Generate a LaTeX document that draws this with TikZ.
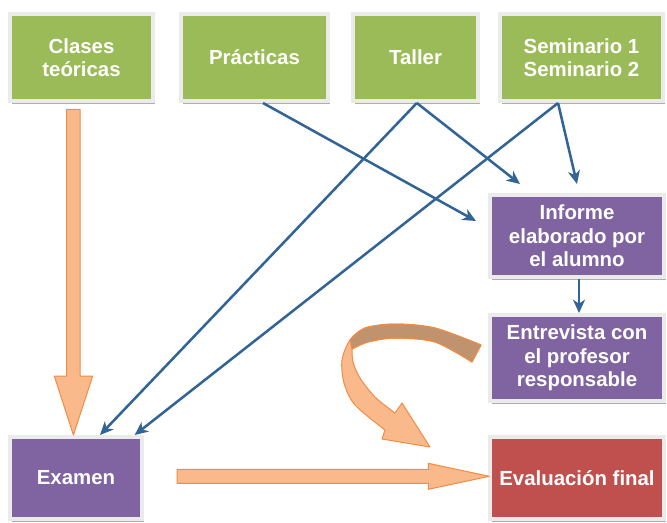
\documentclass[tikz,border=0pt]{standalone}
\usepackage{fontspec}
\setmainfont{Liberation Sans}
\usepackage{xcolor}
\usepackage{tikz}
\usetikzlibrary{arrows.meta,shadows}

\definecolor{boxgreen}{RGB}{155,187,89}
\definecolor{boxpurple}{RGB}{128,100,162}
\definecolor{boxred}{RGB}{192,80,77}
\definecolor{linkblue}{RGB}{50,100,150}
\definecolor{fatfill}{RGB}{250,185,138}
\definecolor{fatdraw}{RGB}{240,140,70}
\definecolor{fatback}{RGB}{192,146,110}

\begin{document}
\begin{tikzpicture}[x=0.75pt,y=0.75pt,yscale=-1,xscale=1,
		box/.style={draw=black!8, line width=3pt, text=white, align=center, inner sep=0pt,
			font=\fontsize{15.3}{17.5}\selectfont\bfseries,
			drop shadow={shadow xshift=1.5pt, shadow yshift=-2pt, fill=black!45, opacity=0.7}},
		greenbox/.style={box, fill=boxgreen, minimum height=65.25pt},
		purplebox/.style={box, fill=boxpurple, minimum width=130.5pt, minimum height=61.5pt},
		redbox/.style={box, fill=boxred, minimum width=130.5pt, minimum height=61.5pt},
		link/.style={draw=linkblue, line width=1.9pt, -{Stealth[length=10pt,width=9pt,inset=3pt]}},
		fatarrow/.style={fill=fatfill, draw=fatdraw, line width=0.75pt, line join=round}]
								\useasboundingbox (0,0) rectangle (667,522);
								
								% Text Node
								\node [greenbox, minimum width=107.25pt] (clases) at (81.5,57.5) {Clases\\teóricas};
								% Text Node
								\node [greenbox, minimum width=110.25pt] (practicas) at (254.5,57.5) {Prácticas};
								% Text Node
								\node [greenbox, minimum width=93.75pt] (taller) at (415.5,57.5) {Taller};
								% Text Node
								\node [greenbox, minimum width=122.25pt] (seminario) at (581.5,57.5) {Seminario 1\\Seminario 2};
								% Text Node
								\node [purplebox] (informe) at (577,236) {Informe\\elaborado por\\el alumno};
								% Text Node
								\node [purplebox, minimum height=64.5pt] (entrevista) at (577,358) {Entrevista con\\el profesor\\responsable};
								% Text Node
								\node [redbox] (evaluacion) at (577,478) {Evaluación final};
								% Text Node
								\node [purplebox, minimum width=99pt] (examen) at (76,478) {Examen};
								
								%Shape: Down Arrow
								\draw [fatarrow] (66.7,109.3) -- (80,109.3) -- (80,376) -- (92.7,376) -- (73.4,435) -- (54.3,376) -- (66.7,376) -- cycle ;
								%Shape: Right Arrow
								\draw [fatarrow] (177,469.3) -- (428.3,469.3) -- (428.3,463.3) -- (489.3,476.3) -- (428.3,489.3) -- (428.3,483.3) -- (177,483.3) -- cycle ;
								%Shape: Curved Arrow
								\draw [fatarrow] plot [smooth] coordinates {(481,345) (435,328) (395,324) (365,328) (350,340) (342,360) (344,383) (355,405) (385,430)} -- (382,439) -- (430,447) -- (402,403) -- (395,413)
									-- plot [smooth] coordinates {(395,413) (375,397) (360,378) (353,362) (352,349)}
									-- plot [smooth] coordinates {(352,349) (368,342) (395,338) (435,342) (472,362)} -- cycle ;
								\draw [fatarrow, fill=fatback] plot [smooth] coordinates {(481,345) (435,328) (395,324) (365,328) (350,340)} -- (352,349)
									-- plot [smooth] coordinates {(352,349) (368,342) (395,338) (435,342) (472,362)} -- cycle ;
								
								%Straight Lines
								\coordinate (tipA) at (476,221);
								\coordinate (tipB) at (520,184);
								\coordinate (tipC) at (577,184);
								\draw [link] ([xshift=6.4pt]practicas.south) -- (tipA) ;
								\draw [link] ([xshift=1pt]taller.south) -- (tipB) ;
								\draw [link] ([xshift=1pt]taller.south) -- ([xshift=18pt]examen.north) ;
								\draw [link] ([xshift=-17.6pt]seminario.south) -- (tipC) ;
								\draw [link] ([xshift=-17.6pt]seminario.south) -- ([xshift=44pt]examen.north) ;
								\draw [link] ([xshift=1.5pt]informe.south) -- ([xshift=1.5pt]entrevista.north) ;
								
							\end{tikzpicture}
\end{document}
